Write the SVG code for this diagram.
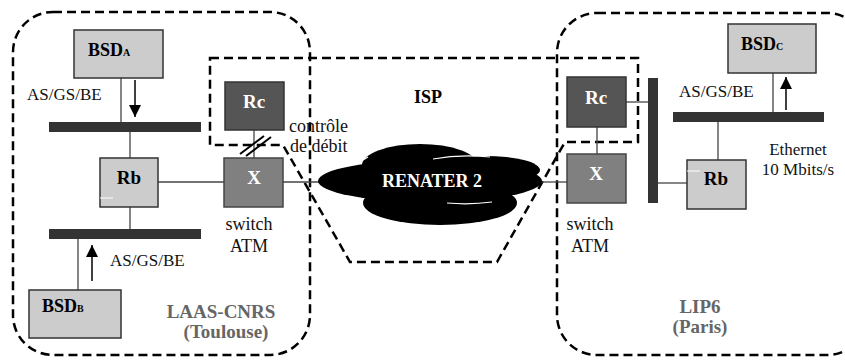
<svg xmlns="http://www.w3.org/2000/svg" width="845" height="360" viewBox="0 0 845 360" font-family="'Liberation Serif', 'Times New Roman', Times, serif">
<style>
.zone{fill:none;stroke:#000;stroke-width:2.5;stroke-dasharray:9,5}
.light{fill:#cccccc;stroke:#333;stroke-width:1.5}
.mid{fill:#808080;stroke:#444;stroke-width:1.5}
.dark{fill:#555555;stroke:#333;stroke-width:1.5}
.bar{fill:#333333}
.ln{stroke:#444;stroke-width:1.3;fill:none}
.t{font-size:17px;fill:#111}
.t18{font-size:18px}
.b{font-weight:bold;font-size:18px}
.n{font-size:19px}
.w{fill:#fff}
.g{fill:#666;font-size:19px}
.sub{font-size:10px}
</style>
<defs>
<marker id="ah" markerUnits="userSpaceOnUse" markerWidth="14" markerHeight="14" refX="12" refY="6" orient="auto">
<path d="M0,0 L12,6 L0,12 z" fill="#000"/>
</marker>
</defs>

<g id="zones">
<rect class="zone" x="13" y="12" width="297" height="343" rx="40" ry="40"/>
<rect class="zone" x="557" y="13" width="310" height="342" rx="40" ry="40"/>
<path class="zone" d="M210,58 L638,58 L638,142 L565,142 L497,262 L350,262 L283,145 L210,145 Z"/>
</g>

<g id="connectors">
<line class="ln" x1="121" y1="78" x2="121" y2="122"/>
<line x1="135" y1="80" x2="135" y2="117" stroke="#000" stroke-width="1.5" marker-end="url(#ah)"/>
<line class="ln" x1="130" y1="132" x2="130" y2="158"/>
<line class="ln" x1="130" y1="207" x2="130" y2="229"/>
<line class="ln" x1="78" y1="239" x2="78" y2="290"/>
<line x1="92" y1="281" x2="92" y2="245" stroke="#000" stroke-width="1.5" marker-end="url(#ah)"/>
<line class="ln" x1="158" y1="182" x2="224" y2="182"/>
<line class="ln" x1="254" y1="130" x2="254" y2="158"/>
<line x1="240" y1="154" x2="264" y2="136" stroke="#000" stroke-width="2"/>
<line x1="246" y1="156" x2="271" y2="137" stroke="#000" stroke-width="2"/>
<line class="ln" x1="283" y1="182" x2="320" y2="182"/>
<line class="ln" x1="540" y1="182" x2="567" y2="182"/>
<line class="ln" x1="597" y1="127" x2="597" y2="154"/>
<line class="ln" x1="626" y1="102" x2="648" y2="102"/>
<line class="ln" x1="658" y1="183" x2="687" y2="183"/>
<line class="ln" x1="718" y1="122" x2="718" y2="160"/>
<line class="ln" x1="773" y1="73" x2="773" y2="112"/>
<line x1="786" y1="110" x2="786" y2="77" stroke="#000" stroke-width="1.5" marker-end="url(#ah)"/>
</g>

<g id="bars">
<rect class="bar" x="49" y="122" width="152" height="10"/>
<rect class="bar" x="49" y="229" width="152" height="10"/>
<rect class="bar" x="648" y="78" width="10" height="125"/>
<rect class="bar" x="673" y="112" width="151" height="10"/>
</g>

<g id="bsdA">
<rect class="light" x="74" y="30" width="89" height="48"/>
<text class="b" x="88" y="56" font-size="15">BSD<tspan class="sub">A</tspan></text>
</g>
<g id="bsdB">
<rect class="light" x="29" y="290" width="92" height="48"/>
<text class="b" x="42" y="312" font-size="15">BSD<tspan class="sub">B</tspan></text>
</g>
<g id="bsdC">
<rect class="light" x="728" y="24" width="88" height="49"/>
<text class="b" x="741" y="50" font-size="15">BSD<tspan class="sub">C</tspan></text>
</g>

<g id="rbLeft">
<rect class="light" x="100" y="158" width="58" height="49"/>
<line x1="100" y1="198" x2="113" y2="198" stroke="#fff" stroke-width="1"/>
<text class="b n" x="129" y="184" text-anchor="middle">Rb</text>
</g>
<g id="rcLeft">
<rect class="dark" x="225" y="82" width="59" height="48"/>
<text class="b n w" x="254" y="108" text-anchor="middle">Rc</text>
</g>
<g id="xLeft">
<rect class="mid" x="224" y="158" width="59" height="49"/>
<text class="b n w" x="254" y="184" text-anchor="middle">X</text>
</g>

<g id="rcRight">
<rect class="dark" x="567" y="77" width="59" height="50"/>
<text class="b n w" x="596" y="104" text-anchor="middle">Rc</text>
</g>
<g id="xRight">
<rect class="mid" x="567" y="154" width="59" height="49"/>
<text class="b n w" x="596" y="180" text-anchor="middle">X</text>
</g>
<g id="rbRight">
<rect class="light" x="687" y="160" width="59" height="49"/>
<line x1="687" y1="171" x2="700" y2="171" stroke="#fff" stroke-width="1"/>
<text class="b n" x="716" y="185" text-anchor="middle">Rb</text>
</g>

<g id="renater">
<ellipse cx="430" cy="181" rx="112" ry="21" fill="#000"/>
<ellipse cx="420" cy="165" rx="58" ry="21" fill="#000"/>
<ellipse cx="485" cy="170" rx="55" ry="14" fill="#000"/>
<ellipse cx="440" cy="203" rx="77" ry="22" fill="#000"/>
<path d="M433,159 Q460,154 490,157" stroke="#fff" stroke-width="1.2" fill="none"/>
<path d="M447,203 Q470,205 492,202" stroke="#fff" stroke-width="1.2" fill="none"/>
<path d="M363,160 L368,157" stroke="#fff" stroke-width="1.2" fill="none"/>
<text class="b w" x="432" y="187" text-anchor="middle">RENATER 2</text>
</g>

<g id="labels">
<text class="t" x="27" y="100">AS/GS/BE</text>
<text class="t" x="110" y="266">AS/GS/BE</text>
<text class="t" x="679" y="97">AS/GS/BE</text>
<text class="t t18" x="289" y="132">contrôle</text>
<text class="t t18" x="290" y="152">de débit</text>
<text class="t t18" x="249" y="230" text-anchor="middle">switch</text>
<text class="t t18" x="249" y="252" text-anchor="middle">ATM</text>
<text class="t t18" x="590" y="230" text-anchor="middle">switch</text>
<text class="t t18" x="590" y="252" text-anchor="middle">ATM</text>
<text class="t" x="798" y="155" text-anchor="middle">Ethernet</text>
<text class="t" x="798" y="175" text-anchor="middle">10 Mbits/s</text>
<text class="b" x="428" y="103" text-anchor="middle">ISP</text>
<text class="b g" x="221" y="318" text-anchor="middle">LAAS-CNRS</text>
<text class="b g" x="226" y="338" text-anchor="middle">(Toulouse)</text>
<text class="b g" x="700" y="313" text-anchor="middle">LIP6</text>
<text class="b g" x="700" y="333" text-anchor="middle">(Paris)</text>
</g>
</svg>
